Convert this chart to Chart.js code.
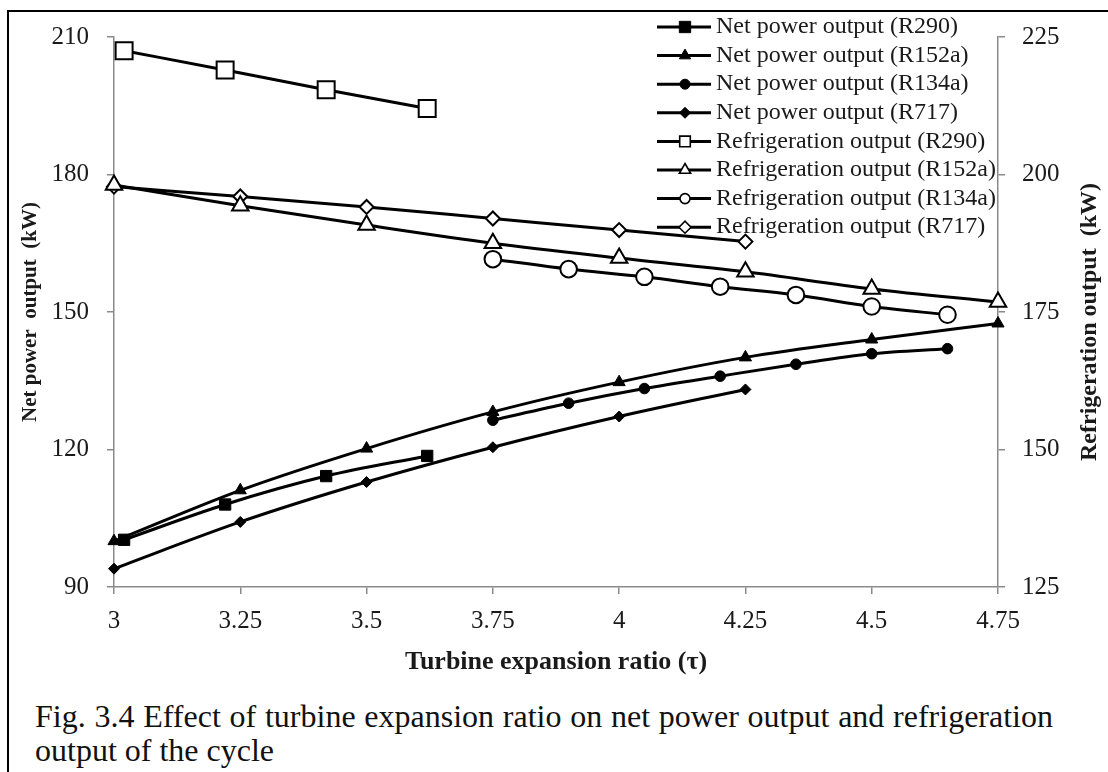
<!DOCTYPE html>
<html>
<head>
<meta charset="utf-8">
<script src="https://cdn.jsdelivr.net/npm/chart.js@4.4.1/dist/chart.umd.min.js"></script>
<style>
  html, body { margin: 0; padding: 0; background: #fff; }
  body { width: 1108px; height: 772px; overflow: hidden; position: relative; font-family: "Liberation Serif", "Times New Roman", serif; }
  #frame { position: absolute; left: 7px; top: 10px; width: 1200px; height: 900px; border: 2px solid #000; box-sizing: border-box; }
  #wrap { position: absolute; left: 0; top: 0; width: 1108px; height: 690px; }
  #caption { position: absolute; left: 35px; top: 699px; width: 1018px; font-size: 32px; line-height: 34px; text-align: justify; color: #111; }
</style>
</head>
<body>
<div id="frame"></div>
<div id="wrap"><canvas id="chart" width="1108" height="690"></canvas></div>
<div id="caption">Fig. 3.4 Effect of turbine expansion ratio on net power output and refrigeration output of the cycle</div>
<script>
// values
const xTickValues = [3, 3.25, 3.5, 3.75, 4, 4.25, 4.5, 4.75];
const leftTickValues = [90, 120, 150, 180, 210];
const rightTickValues = [125, 150, 175, 200, 225];

const xR290 = [3.02, 3.22, 3.42, 3.62];
const netR290 = [100.3, 108.0, 114.2, 118.6];
const refR290 = [222.5, 219.0, 215.4, 212.0];

const xR152a = [3, 3.25, 3.5, 3.75, 4, 4.25, 4.5, 4.75];
const netR152a = [100.0, 111.1, 120.2, 128.2, 134.7, 140.1, 144.0, 147.5];
const refR152a = [198.1, 194.3, 190.8, 187.5, 184.8, 182.3, 179.2, 176.8];

const xR134a = [3.75, 3.9, 4.05, 4.2, 4.35, 4.5, 4.65];
const netR134a = [126.4, 130.1, 133.3, 136.0, 138.6, 140.9, 142.0];
const refR134a = [184.6, 182.8, 181.4, 179.6, 178.1, 176.0, 174.5];

const xR717 = [3, 3.25, 3.5, 3.75, 4, 4.25];
const netR717 = [94.0, 104.2, 112.9, 120.5, 127.2, 133.1];
const refR717 = [197.8, 196.0, 194.1, 192.0, 189.9, 187.8];

const FONT = '"Liberation Serif", "Times New Roman", serif';
const TEXT = "#1a1a1a";
const AXIS = "#8a8a8a";

function pts(xs, ys) {
  return xs.map((x, i) => ({ x: x, y: ys[i] }));
}

// one line series with Excel-like markers
function series(label, xs, ys, axis, style, radius, legendRadius, filled) {
  return {
    label: label,
    data: pts(xs, ys),
    yAxisID: axis,
    showLine: true,
    cubicInterpolationMode: "monotone",
    borderColor: "#000",
    borderWidth: 3,
    pointStyle: style,
    pointRadius: radius,
    pointBackgroundColor: filled ? "#000" : "#fff",
    pointBorderColor: "#000",
    pointBorderWidth: filled ? 1 : 2,
    clip: false,
    legendRadius: legendRadius
  };
}

const datasets = [
  series("Net power output (R290)", xR290, netR290, "y", "rect", 8, 8, true),
  series("Net power output (R152a)", xR152a, netR152a, "y", "triangle", 7, 6.5, true),
  series("Net power output (R134a)", xR134a, netR134a, "y", "circle", 5.3, 5, true),
  series("Net power output (R717)", xR717, netR717, "y", "rectRot", 5.5, 5.5, true),
  series("Refrigeration output (R290)", xR290, refR290, "y1", "rect", 12, 7.5, false),
  series("Refrigeration output (R152a)", xR152a, refR152a, "y1", "triangle", 9.5, 6.5, false),
  series("Refrigeration output (R134a)", xR134a, refR134a, "y1", "circle", 8.3, 5, false),
  series("Refrigeration output (R717)", xR717, refR717, "y1", "rectRot", 7, 6, false)
];

function fixedTicks(values) {
  return (scale) => { scale.ticks = values.map(v => ({ value: v })); };
}

function drawMarker(ctx, style, r, x, y, filled) {
  ctx.save();
  ctx.fillStyle = filled ? "#000" : "#fff";
  ctx.strokeStyle = "#000";
  ctx.lineWidth = filled ? 1 : 1.6;
  if (Chart.helpers && Chart.helpers.drawPoint) {
    Chart.helpers.drawPoint(ctx, { pointStyle: style, radius: r, rotation: 0, borderWidth: ctx.lineWidth }, x, y);
  } else {
    ctx.beginPath();
    ctx.arc(x, y, r, 0, Math.PI * 2);
    ctx.fill();
    ctx.stroke();
  }
  ctx.restore();
}

// right title reads bottom-to-top, plus the legend over the plot
const extras = {
  id: "extras",
  afterDraw(chart) {
    const ctx = chart.ctx;

    ctx.save();
    ctx.translate(1090, 322);
    ctx.rotate(-Math.PI / 2);
    ctx.font = "bold 24px " + FONT;
    ctx.fillStyle = TEXT;
    ctx.textAlign = "center";
    ctx.textBaseline = "middle";
    ctx.fillText("Refrigeration output  (kW)", 0, 0);
    ctx.restore();

    chart.data.datasets.forEach((ds, i) => {
      const y = 27 + i * 28.6;
      ctx.save();
      ctx.strokeStyle = "#000";
      ctx.lineWidth = 3;
      ctx.beginPath();
      ctx.moveTo(657, y);
      ctx.lineTo(711, y);
      ctx.stroke();
      ctx.restore();
      drawMarker(ctx, ds.pointStyle, ds.legendRadius, 685, y, ds.pointBackgroundColor === "#000");
      ctx.save();
      ctx.font = "24px " + FONT;
      ctx.fillStyle = TEXT;
      ctx.textAlign = "left";
      ctx.textBaseline = "middle";
      ctx.fillText(ds.label, 716, y);
      ctx.restore();
    });
  }
};

const tickFont = { family: FONT, size: 25 };
const titleFont = { family: FONT, size: 26, weight: "bold" };

new Chart(document.getElementById("chart"), {
  type: "scatter",
  data: { datasets: datasets },
  options: {
    responsive: false,
    animation: false,
    layout: { padding: { left: 0, right: 0, top: 37, bottom: 0 } },
    elements: { line: { borderJoinStyle: "round", borderCapStyle: "round" } },
    plugins: { legend: { display: false }, tooltip: { enabled: false } },
    scales: {
      x: {
        type: "linear",
        position: "bottom",
        min: 3,
        max: 4.75,
        afterBuildTicks: fixedTicks(xTickValues),
        afterFit: (s) => { s.height = 103; },
        grid: { drawOnChartArea: false, tickLength: 7, color: AXIS, lineWidth: 1.5 },
        border: { color: AXIS, width: 1.5 },
        ticks: { padding: 12, color: TEXT, font: tickFont, maxRotation: 0, autoSkip: false, callback: (v) => String(v) },
        title: { display: true, text: "Turbine expansion ratio (τ)", color: TEXT, font: titleFont, padding: { top: 0, bottom: 12 } }
      },
      y: {
        type: "linear",
        position: "left",
        min: 90,
        max: 210,
        afterBuildTicks: fixedTicks(leftTickValues),
        afterFit: (s) => { s.width = 114; },
        grid: { drawOnChartArea: false, tickLength: 7, color: AXIS, lineWidth: 1.5 },
        border: { color: AXIS, width: 1.5 },
        ticks: { padding: 18, color: TEXT, font: tickFont, callback: (v) => String(v) },
        title: { display: true, text: "Net power  output  (kW)", color: TEXT, font: { family: FONT, size: 21, weight: "bold" }, padding: { top: 18, bottom: 0 } }
      },
      y1: {
        type: "linear",
        position: "right",
        min: 125,
        max: 225,
        afterBuildTicks: fixedTicks(rightTickValues),
        afterFit: (s) => { s.width = 110; },
        grid: { drawOnChartArea: false, tickLength: 7, color: AXIS, lineWidth: 1.5 },
        border: { color: AXIS, width: 1.5 },
        ticks: { padding: 17, color: TEXT, font: tickFont, callback: (v) => String(v) },
        title: { display: false }
      }
    }
  },
  plugins: [extras]
});
</script>
</body>
</html>
